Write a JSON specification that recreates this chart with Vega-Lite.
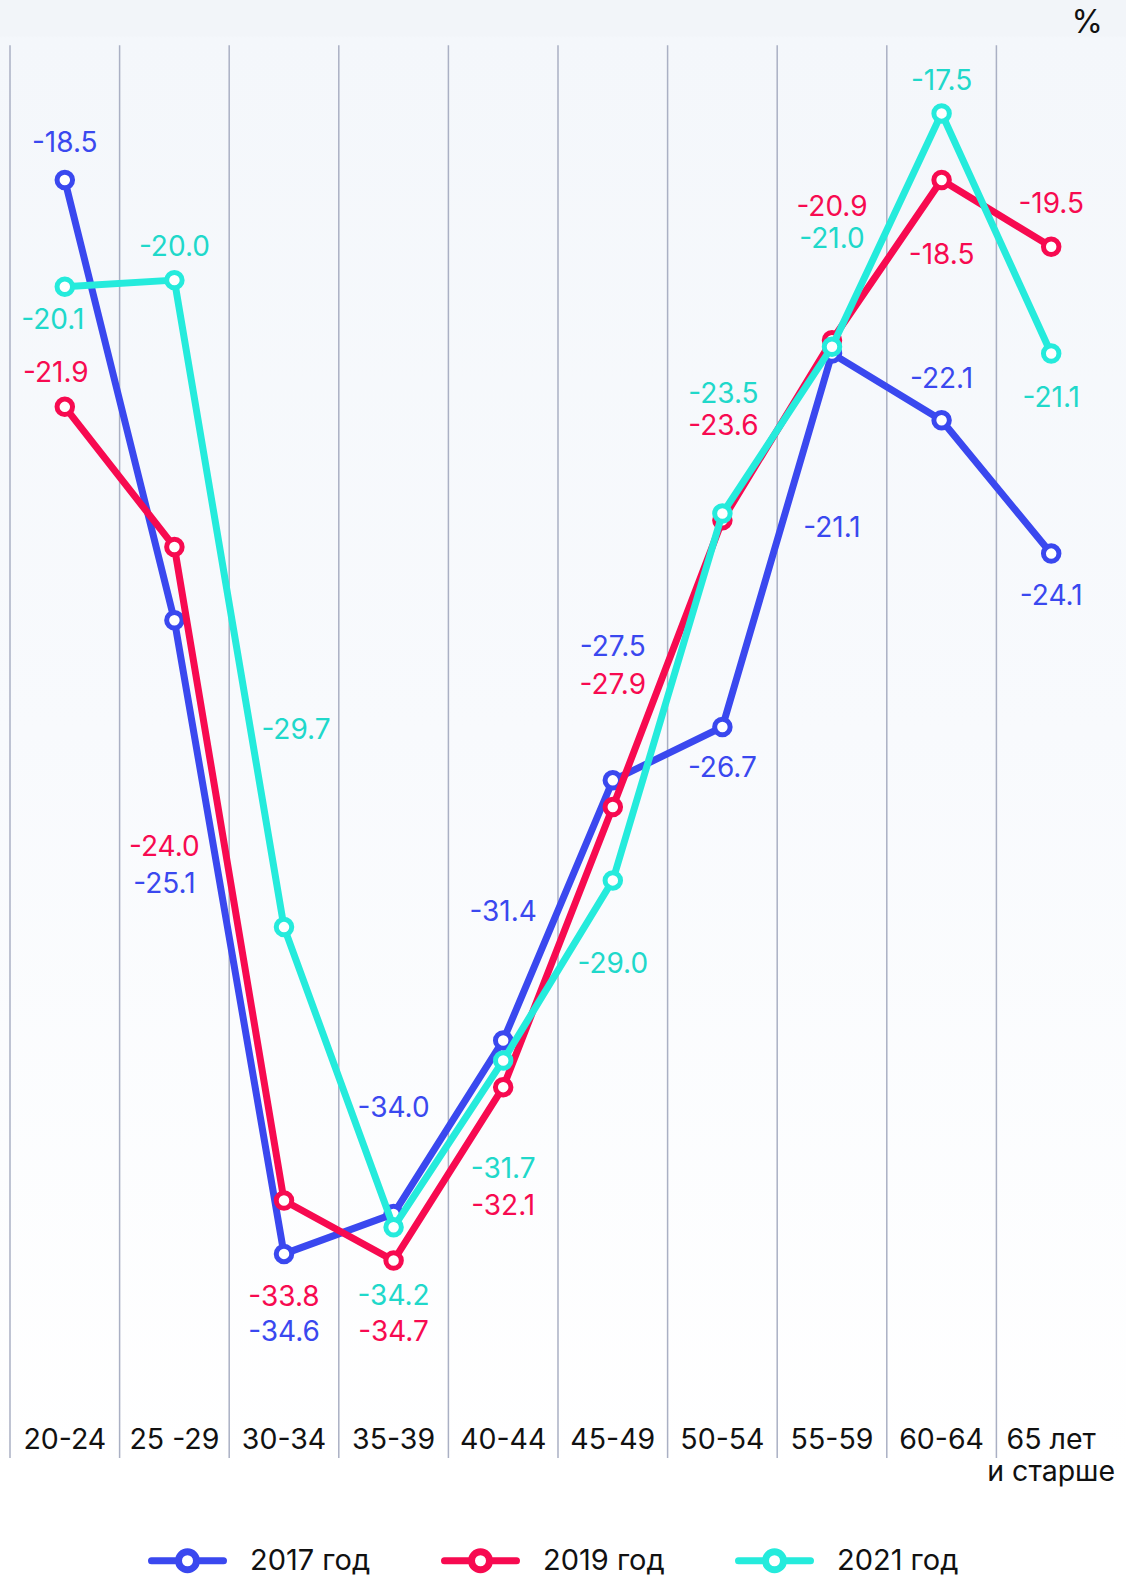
{
  "$schema": "https://vega.github.io/schema/vega-lite/v6.json",
  "width": 1126,
  "height": 1464,
  "autosize": {"type": "none"},
  "padding": {"left": 0, "top": 0, "right": 0, "bottom": 113},
  "background": "#ffffff",
  "config": {
    "view": {"stroke": null, "fill": {"gradient": "linear", "x1": 0, "y1": 0, "x2": 0, "y2": 1, "stops": [{"offset": 0, "color": "#f2f5f9"}, {"offset": 0.024, "color": "#f2f5f9"}, {"offset": 0.026, "color": "#f4f7fb"}, {"offset": 0.5, "color": "#f8fafd"}, {"offset": 1, "color": "#ffffff"}]}},
    "locale": {"number": {"decimal": ".", "thousands": ",", "grouping": [3], "currency": ["$", ""], "minus": "-"}},
    "text": {"fontSize": 28, "font": "Inter", "baseline": "middle", "align": "center"}
  },
  "data": {"values": [
    {"a": "20-24", "s": "2017 год", "v": -18.5},
    {"a": "25 -29", "s": "2017 год", "v": -25.1},
    {"a": "30-34", "s": "2017 год", "v": -34.6},
    {"a": "35-39", "s": "2017 год", "v": -34.0},
    {"a": "40-44", "s": "2017 год", "v": -31.4},
    {"a": "45-49", "s": "2017 год", "v": -27.5},
    {"a": "50-54", "s": "2017 год", "v": -26.7},
    {"a": "55-59", "s": "2017 год", "v": -21.1},
    {"a": "60-64", "s": "2017 год", "v": -22.1},
    {"a": "65 лет и старше", "s": "2017 год", "v": -24.1},
    {"a": "20-24", "s": "2019 год", "v": -21.9},
    {"a": "25 -29", "s": "2019 год", "v": -24.0},
    {"a": "30-34", "s": "2019 год", "v": -33.8},
    {"a": "35-39", "s": "2019 год", "v": -34.7},
    {"a": "40-44", "s": "2019 год", "v": -32.1},
    {"a": "45-49", "s": "2019 год", "v": -27.9},
    {"a": "50-54", "s": "2019 год", "v": -23.6},
    {"a": "55-59", "s": "2019 год", "v": -20.9},
    {"a": "60-64", "s": "2019 год", "v": -18.5},
    {"a": "65 лет и старше", "s": "2019 год", "v": -19.5},
    {"a": "20-24", "s": "2021 год", "v": -20.1},
    {"a": "25 -29", "s": "2021 год", "v": -20.0},
    {"a": "30-34", "s": "2021 год", "v": -29.7},
    {"a": "35-39", "s": "2021 год", "v": -34.2},
    {"a": "40-44", "s": "2021 год", "v": -31.7},
    {"a": "45-49", "s": "2021 год", "v": -29.0},
    {"a": "50-54", "s": "2021 год", "v": -23.5},
    {"a": "55-59", "s": "2021 год", "v": -21.0},
    {"a": "60-64", "s": "2021 год", "v": -17.5},
    {"a": "65 лет и старше", "s": "2021 год", "v": -21.1}
  ]},
  "encoding": {
    "x": {"field": "a", "type": "nominal",
      "scale": {"type": "band", "domain": ["20-24", "25 -29", "30-34", "35-39", "40-44", "45-49", "50-54", "55-59", "60-64", "65 лет и старше"], "paddingInner": 0, "paddingOuter": 0.13686, "align": 0.3333},
      "axis": {"title": null, "domain": false, "ticks": false, "tickSize": 0, "grid": false, "labelAngle": 0, "labelPadding": -16, "labelBaseline": "alphabetic", "labelFontSize": 28.5, "labelFont": "Inter", "labelColor": "#111111", "labelOverlap": false, "labelLineHeight": 32, "labelLimit": 300,
        "labelExpr": "datum.value == '65 лет и старше' ? ['65 лет', 'и старше'] : datum.value"}},
    "y": {"field": "v", "type": "quantitative", "scale": {"domain": [-37.75, -15.8], "nice": false, "zero": false}, "axis": null},
    "color": {"field": "s", "type": "nominal",
      "scale": {"domain": ["2017 год", "2019 год", "2021 год"], "range": ["#3a48ef", "#f70a50", "#25ebdc"]},
      "legend": {"orient": "none", "legendX": 173, "legendY": 1546, "direction": "horizontal", "title": null,
        "symbolType": "M-4,0L-1,0M1,0L4,0M-1,0A1,1,0,1,0,1,0A1,1,0,1,0,-1,0",
        "symbolSize": 324, "symbolStrokeWidth": 7, "symbolFillColor": "#ffffff",
        "labelFontSize": 29, "labelFont": "Inter", "labelColor": "#111111", "labelOffset": 48, "columnPadding": 59,
        "encode": {"symbols": {"update": {"fill": {"value": "#ffffff"}, "strokeCap": {"value": "round"}}}}}}
  },
  "layer": [
    {"transform": [{"filter": "datum.s=='2017 год'"}], "mark": {"type": "rule", "strokeWidth": 1.5},
      "encoding": {"x": {"field": "a", "type": "nominal", "bandPosition": 0}, "y": {"datum": -16.48}, "y2": {"datum": -37.66}, "color": {"value": "#aab0c4"}}},
    {"data": {"values": [{"e": 1}]}, "mark": {"type": "rule", "strokeWidth": 1.5},
      "encoding": {"x": {"datum": "65 лет и старше", "type": "nominal", "bandPosition": 1}, "y": {"datum": -16.48}, "y2": {"datum": -37.66}, "color": {"value": "#aab0c4"}}},
    {"transform": [{"filter": "datum.s=='2017 год'"}], "mark": {"type": "line", "strokeWidth": 7}},
    {"transform": [{"filter": "datum.s=='2017 год'"}], "mark": {"type": "point", "shape": "circle", "filled": false, "fill": "#ffffff", "size": 240, "strokeWidth": 5, "opacity": 1}},
    {"transform": [{"filter": "datum.s=='2019 год'"}], "mark": {"type": "line", "strokeWidth": 7}},
    {"transform": [{"filter": "datum.s=='2019 год'"}], "mark": {"type": "point", "shape": "circle", "filled": false, "fill": "#ffffff", "size": 240, "strokeWidth": 5, "opacity": 1}},
    {"transform": [{"filter": "datum.s=='2021 год'"}], "mark": {"type": "line", "strokeWidth": 7}},
    {"transform": [{"filter": "datum.s=='2021 год'"}], "mark": {"type": "point", "shape": "circle", "filled": false, "fill": "#ffffff", "size": 240, "strokeWidth": 5, "opacity": 1}},

    {"transform": [{"filter": "datum.s=='2017 год'&&datum.a=='20-24'"}], "mark": {"type": "text", "dy": -36}, "encoding": {"text": {"field": "v", "format": ".1f"}, "color": {"value": "#3a48ef"}}},
    {"transform": [{"filter": "datum.s=='2017 год'&&datum.a=='25 -29'"}], "mark": {"type": "text", "dy": 265, "dx": -10}, "encoding": {"text": {"field": "v", "format": ".1f"}, "color": {"value": "#3a48ef"}}},
    {"transform": [{"filter": "datum.s=='2017 год'&&datum.a=='30-34'"}], "mark": {"type": "text", "dy": 79}, "encoding": {"text": {"field": "v", "format": ".1f"}, "color": {"value": "#3a48ef"}}},
    {"transform": [{"filter": "datum.s=='2017 год'&&datum.a=='35-39'"}], "mark": {"type": "text", "dy": -105}, "encoding": {"text": {"field": "v", "format": ".1f"}, "color": {"value": "#3a48ef"}}},
    {"transform": [{"filter": "datum.s=='2017 год'&&datum.a=='40-44'"}], "mark": {"type": "text", "dy": -127}, "encoding": {"text": {"field": "v", "format": ".1f"}, "color": {"value": "#3a48ef"}}},
    {"transform": [{"filter": "datum.s=='2017 год'&&datum.a=='45-49'"}], "mark": {"type": "text", "dy": -132}, "encoding": {"text": {"field": "v", "format": ".1f"}, "color": {"value": "#3a48ef"}}},
    {"transform": [{"filter": "datum.s=='2017 год'&&datum.a=='50-54'"}], "mark": {"type": "text", "dy": 42}, "encoding": {"text": {"field": "v", "format": ".1f"}, "color": {"value": "#3a48ef"}}},
    {"transform": [{"filter": "datum.s=='2017 год'&&datum.a=='55-59'"}], "mark": {"type": "text", "dy": 176}, "encoding": {"text": {"field": "v", "format": ".1f"}, "color": {"value": "#3a48ef"}}},
    {"transform": [{"filter": "datum.s=='2017 год'&&datum.a=='60-64'"}], "mark": {"type": "text", "dy": -40}, "encoding": {"text": {"field": "v", "format": ".1f"}, "color": {"value": "#3a48ef"}}},
    {"transform": [{"filter": "datum.s=='2017 год'&&datum.a=='65 лет и старше'"}], "mark": {"type": "text", "dy": 43}, "encoding": {"text": {"field": "v", "format": ".1f"}, "color": {"value": "#3a48ef"}}},

    {"transform": [{"filter": "datum.s=='2019 год'&&datum.a=='20-24'"}], "mark": {"type": "text", "dy": -33, "dx": -9}, "encoding": {"text": {"field": "v", "format": ".1f"}, "color": {"value": "#f70a50"}}},
    {"transform": [{"filter": "datum.s=='2019 год'&&datum.a=='25 -29'"}], "mark": {"type": "text", "dy": 301, "dx": -10}, "encoding": {"text": {"field": "v", "format": ".1f"}, "color": {"value": "#f70a50"}}},
    {"transform": [{"filter": "datum.s=='2019 год'&&datum.a=='30-34'"}], "mark": {"type": "text", "dy": 97}, "encoding": {"text": {"field": "v", "format": ".1f"}, "color": {"value": "#f70a50"}}},
    {"transform": [{"filter": "datum.s=='2019 год'&&datum.a=='35-39'"}], "mark": {"type": "text", "dy": 72}, "encoding": {"text": {"field": "v", "format": ".1f"}, "color": {"value": "#f70a50"}}},
    {"transform": [{"filter": "datum.s=='2019 год'&&datum.a=='40-44'"}], "mark": {"type": "text", "dy": 120}, "encoding": {"text": {"field": "v", "format": ".1f"}, "color": {"value": "#f70a50"}}},
    {"transform": [{"filter": "datum.s=='2019 год'&&datum.a=='45-49'"}], "mark": {"type": "text", "dy": -121}, "encoding": {"text": {"field": "v", "format": ".1f"}, "color": {"value": "#f70a50"}}},
    {"transform": [{"filter": "datum.s=='2019 год'&&datum.a=='50-54'"}], "mark": {"type": "text", "dy": -93, "dx": 1}, "encoding": {"text": {"field": "v", "format": ".1f"}, "color": {"value": "#f70a50"}}},
    {"transform": [{"filter": "datum.s=='2019 год'&&datum.a=='55-59'"}], "mark": {"type": "text", "dy": -132}, "encoding": {"text": {"field": "v", "format": ".1f"}, "color": {"value": "#f70a50"}}},
    {"transform": [{"filter": "datum.s=='2019 год'&&datum.a=='60-64'"}], "mark": {"type": "text", "dy": 76}, "encoding": {"text": {"field": "v", "format": ".1f"}, "color": {"value": "#f70a50"}}},
    {"transform": [{"filter": "datum.s=='2019 год'&&datum.a=='65 лет и старше'"}], "mark": {"type": "text", "dy": -42}, "encoding": {"text": {"field": "v", "format": ".1f"}, "color": {"value": "#f70a50"}}},

    {"transform": [{"filter": "datum.s=='2021 год'&&datum.a=='20-24'"}], "mark": {"type": "text", "dy": 34, "dx": -12}, "encoding": {"text": {"field": "v", "format": ".1f"}, "color": {"value": "#20d8ca"}}},
    {"transform": [{"filter": "datum.s=='2021 год'&&datum.a=='25 -29'"}], "mark": {"type": "text", "dy": -32}, "encoding": {"text": {"field": "v", "format": ".1f"}, "color": {"value": "#20d8ca"}}},
    {"transform": [{"filter": "datum.s=='2021 год'&&datum.a=='30-34'"}], "mark": {"type": "text", "dy": -196, "dx": 12}, "encoding": {"text": {"field": "v", "format": ".1f"}, "color": {"value": "#20d8ca"}}},
    {"transform": [{"filter": "datum.s=='2021 год'&&datum.a=='35-39'"}], "mark": {"type": "text", "dy": 70}, "encoding": {"text": {"field": "v", "format": ".1f"}, "color": {"value": "#20d8ca"}}},
    {"transform": [{"filter": "datum.s=='2021 год'&&datum.a=='40-44'"}], "mark": {"type": "text", "dy": 110}, "encoding": {"text": {"field": "v", "format": ".1f"}, "color": {"value": "#20d8ca"}}},
    {"transform": [{"filter": "datum.s=='2021 год'&&datum.a=='45-49'"}], "mark": {"type": "text", "dy": 85}, "encoding": {"text": {"field": "v", "format": ".1f"}, "color": {"value": "#20d8ca"}}},
    {"transform": [{"filter": "datum.s=='2021 год'&&datum.a=='50-54'"}], "mark": {"type": "text", "dy": -119, "dx": 1}, "encoding": {"text": {"field": "v", "format": ".1f"}, "color": {"value": "#20d8ca"}}},
    {"transform": [{"filter": "datum.s=='2021 год'&&datum.a=='55-59'"}], "mark": {"type": "text", "dy": -107}, "encoding": {"text": {"field": "v", "format": ".1f"}, "color": {"value": "#20d8ca"}}},
    {"transform": [{"filter": "datum.s=='2021 год'&&datum.a=='60-64'"}], "mark": {"type": "text", "dy": -31}, "encoding": {"text": {"field": "v", "format": ".1f"}, "color": {"value": "#20d8ca"}}},
    {"transform": [{"filter": "datum.s=='2021 год'&&datum.a=='65 лет и старше'"}], "mark": {"type": "text", "dy": 46}, "encoding": {"text": {"field": "v", "format": ".1f"}, "color": {"value": "#20d8ca"}}},

    {"transform": [{"filter": "datum.s=='2017 год'&&datum.a=='65 лет и старше'"}], "mark": {"type": "text", "align": "right", "fontSize": 32, "dx": -3},
      "encoding": {"x": {"field": "a", "type": "nominal", "bandPosition": 1}, "y": {"datum": -16.15}, "text": {"value": "%"}, "color": {"value": "#111111"}}}
  ]
}
